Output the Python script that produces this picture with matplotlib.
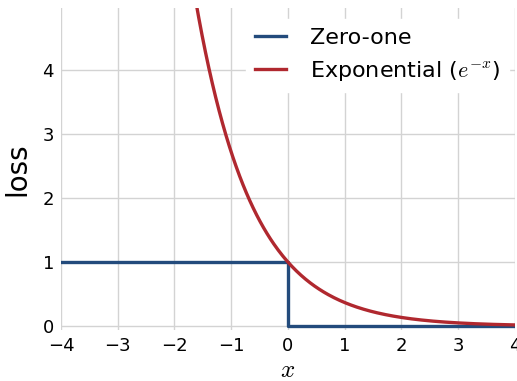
import numpy as np
import matplotlib
matplotlib.use("Agg")
import matplotlib.pyplot as plt

plt.rcParams["mathtext.fontset"] = "cm"

# Data
zero_one_x = [-4, 0, 0, 4]
zero_one_y = [1, 1, 0, 0]
exp_x = np.linspace(-4, 4, 400)
exp_y = np.exp(-exp_x)
xticks = [-4, -3, -2, -1, 0, 1, 2, 3, 4]
yticks = [0, 1, 2, 3, 4]

fig = plt.figure(figsize=(5.17, 3.81), dpi=100)
ax = fig.add_axes([0.118, 0.134, 0.878, 0.845])

ax.plot(zero_one_x, zero_one_y, color="#234b7c", lw=2.4, label="Zero-one", zorder=3)
ax.plot(exp_x, exp_y, color="#b0282f", lw=2.4, label=r"Exponential ($e^{-x}$)", zorder=3)

ax.set_xlim(-4, 4)
ax.set_ylim(-0.06, 4.97)
ax.set_xticks(xticks)
ax.set_yticks(yticks)
ax.grid(True, color="#d3d3d3", lw=1)
ax.set_axisbelow(True)
for s in ax.spines.values():
    s.set_visible(False)
ax.tick_params(length=0, labelsize=13, pad=5)
ax.set_xlabel("$x$", fontsize=18, labelpad=2)
ax.set_ylabel("loss", fontsize=20, labelpad=8)

leg = ax.legend(loc="upper right", bbox_to_anchor=(1.012, 1.0), fontsize=16,
                frameon=True, fancybox=False, edgecolor="white", framealpha=1,
                borderaxespad=0.5, handlelength=1.4, handletextpad=1.1,
                labelspacing=0.5)

fig.savefig("out.png", dpi=100)
